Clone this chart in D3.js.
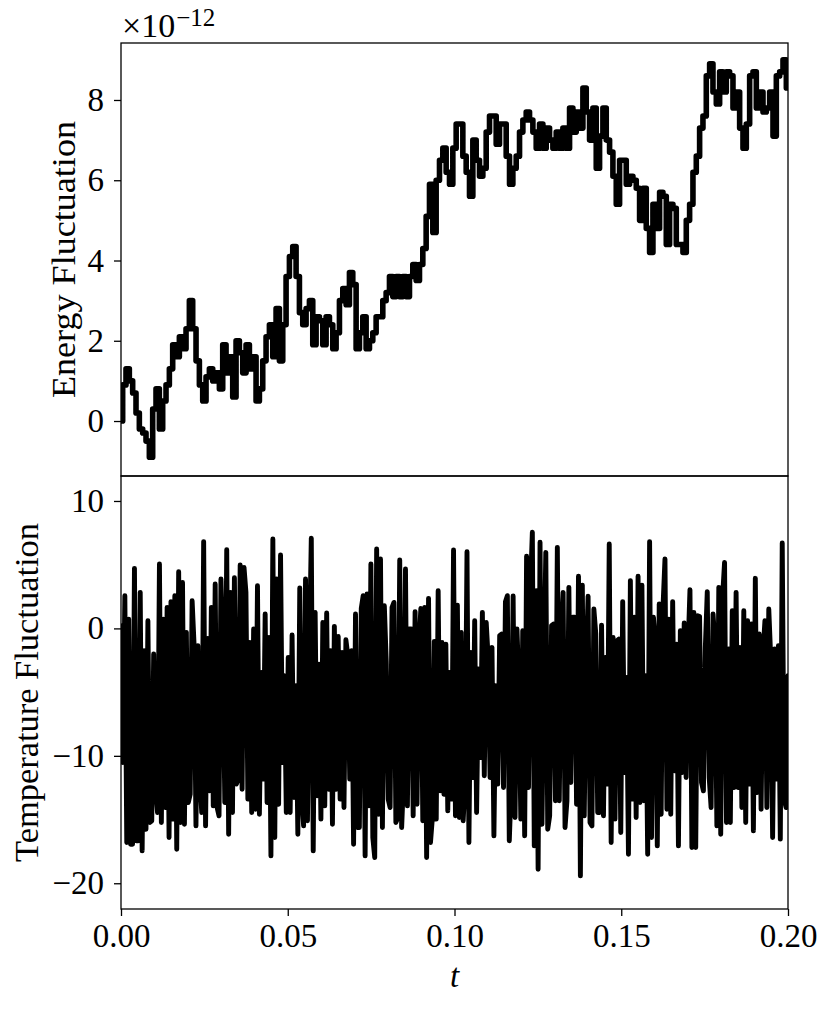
<!DOCTYPE html>
<html><head><meta charset="utf-8">
<script src="https://cdn.jsdelivr.net/npm/d3@7"></script>
<style>body{margin:0;background:#fff} svg{display:block}</style>
</head><body><svg id="c" width="831" height="1010"></svg>
<script>
// Energy fluctuation (units of 1e-12), sampled uniformly from t=0 to t=0.2
const energy = [
 0.0, 0.9, 1.3, 1.0, 0.7, 0.2, -0.2, -0.3, -0.5, -0.9,
 0.3, 0.8, -0.2, 0.5, 0.9, 1.3, 1.9, 1.6, 2.1, 1.8,
 2.3, 3.0, 2.3, 1.5, 0.9, 0.5, 1.1, 1.3, 1.0, 1.2,
 0.8, 1.9, 1.2, 1.6, 0.6, 2.0, 1.7, 1.2, 1.9, 1.3,
 1.6, 0.5, 0.8, 1.5, 2.1, 2.4, 1.6, 2.8, 1.5, 2.4,
 3.6, 4.1, 4.35, 3.6, 2.7, 2.4, 2.8, 3.0, 1.9, 2.6,
 2.5, 1.9, 2.6, 2.4, 1.8, 2.2, 3.0, 3.3, 2.9, 3.7,
 3.4, 1.8, 2.2, 2.6, 1.8, 2.0, 2.2, 2.6, 2.6, 3.0,
 3.2, 3.6, 3.1, 3.6, 3.1, 3.6, 3.1, 3.6, 3.9, 3.5,
 3.9, 4.3, 5.1, 5.9, 4.7, 6.0, 6.5, 6.8, 6.2, 5.9,
 6.8, 7.4, 7.4, 6.6, 6.2, 5.6, 7.0, 6.5, 6.1, 6.3,
 7.2, 7.6, 7.6, 6.9, 7.4, 7.4, 6.6, 5.9, 6.3, 6.6,
 7.2, 7.5, 7.7, 7.5, 7.2, 6.8, 7.4, 6.8, 7.3, 7.0,
 6.8, 7.2, 6.8, 7.3, 6.8, 7.8, 7.2, 7.7, 7.3, 8.3,
 7.7, 7.0, 7.8, 6.3, 7.1, 7.8, 7.0, 6.7, 6.1, 5.4,
 6.5, 6.5, 5.9, 6.1, 6.0, 5.8, 5.0, 5.8, 4.8, 4.2,
 5.4, 4.8, 5.7, 5.6, 4.4, 5.4, 5.3, 4.4, 4.4, 4.2,
 5.0, 5.4, 6.2, 6.6, 7.3, 7.6, 8.6, 8.9, 8.2, 7.9,
 8.7, 8.2, 8.7, 8.6, 7.8, 8.2, 7.3, 6.8, 7.4, 8.6,
 8.7, 7.8, 8.2, 7.7, 7.8, 8.2, 7.1, 8.6, 8.7, 9.0,
 8.3
];

// Temperature fluctuation, sampled uniformly from t=0 to t=0.2
const temperature = [
 0.21, -10.52, 2.57, -16.80, 0.73, -16.94, -16.94, 4.71, -16.67, -16.67,
 2.83, -17.46, -1.75, -15.76, 0.60, -15.23, -15.10, -2.01, -12.49, -14.45,
 5.05, -15.23, 0.73, -14.06, 1.65, -16.41, 2.10, -14.97, 2.57, -17.33,
 4.45, -15.23, 3.61, -15.37, -0.31, -13.66, -13.01, 2.17, -1.23, -15.50,
 -1.36, -11.57, -14.45, 6.81, -15.50, -0.78, -12.75, 1.65, -13.93, 3.48,
 -14.06, -14.71, 3.88, -1.88, -13.66, 6.18, -16.15, 2.83, -14.45, 3.98,
 -12.22, -11.83, 4.98, -12.62, 4.79,
 2.83, -13.40, -1.10, -14.45, -0.05, -14.19, 3.35, -14.58, -3.45, -11.83,
 1.13, -13.66, -0.71, -17.85, 7.02, -16.41, 3.88, -13.80, 5.76, -10.52,
 -3.72, -14.45, -2.28, -14.45, -0.52, -13.27, -4.50, -16.15, 3.17, -13.14,
 -15.50, 3.88, -15.10, -1.88, 7.07, -17.46, 1.26, -13.14, -2.80, -14.97,
 0.47, -13.93, 1.21, -12.62, -1.75, -15.37, 0.16, -12.62, -0.63, -13.40,
 -1.88, -14.06, -0.89, -2.14, -11.83, -1.75, -16.94, 1.13, -15.63, -15.63,
 1.57, 2.57, -17.85, 2.70, -13.93, 5.05, -16.41, -17.98, 6.23, -14.58, 5.45,
 -15.63, 1.78, -2.67, -13.40, -14.06, 1.65, 2.04, -15.23, -14.84, 5.37,
 -15.63, -11.83, 4.66, -13.93, -0.05, -0.05, -14.71, 1.31, -13.80, -1.36,
 1.57, -15.10, 1.65, -17.98, 2.36, -16.80, -14.84, -1.02, -14.97, 2.96,
 -12.75, -1.10, -13.01, -1.23, -14.32, -3.45, -13.40, 6.15, -14.71, 1.83,
 -14.84, -0.31, -15.10, -12.09, 6.02, -16.80, -1.88, -11.70, 0.60, -14.45,
 -3.19, -10.13, 1.26, -11.57, 0.47, -2.28, -11.70, -1.49, -16.28, -4.50,
 -12.22, -0.57, -0.44, -12.49, 2.10, 2.57, -16.67, -12.35, 2.54, -14.84, -0.05,
 -4.50, -14.97, -0.18, -16.28, 5.66, -12.49, 3.09, 7.54, -17.07, 2.96,
 -18.90, 6.76, -15.37, -3.58, 5.97, -15.76, -14.71, 0.21, 0.34, -13.53,
 6.36, -13.53, -0.57, 2.83, -15.63, -13.53, 3.22, -12.09, 0.87, 0.87,
 -13.80, 4.09, -19.42, 3.40, -14.71, -2.67, 2.52, -15.23, -15.50, 1.52,
 -0.44, -14.45, -14.45, 0.26, -14.71, -2.28, -12.22, 6.62, -16.80, -0.71,
 -14.97, -0.97, -0.84, -16.02, 2.10, -11.31, -3.85, -17.72, 3.75, -13.40,
 0.87, -14.84, 4.09, -13.66, 3.40, -13.53, -3.72, -17.72, 6.81, -16.41, 0.87,
 -1.10, -17.07, 1.91, -14.58, 1.78, 5.45, -14.19, 0.73, -14.58, 2.10,
 -11.18, -1.23, -17.07, -0.18, -11.31, 0.42, -11.70, -1.62, 3.04, -17.20,
 1.26, -17.20, 1.00, 0.94, -12.09, -12.75, -1.49, 2.88, -11.70, -14.06,
 1.13, -1.23, -15.50, 3.22, -16.15, 2.57, 5.18, -15.23, -1.62, -15.23,
 1.39, -12.49, 2.83, -12.49, -1.49, -14.06, 1.39, -15.23, 0.60, -12.22,
 0.34, -15.89, 3.93, -12.88, -0.44, -14.19, -1.88, 0.60, -14.06, 1.52,
 -2.28, -16.41, -1.62, -11.83, -1.36, -16.54, 6.70, -13.40, -14.06, -3.72
];

const tRange = [0, 0.2];
const xTicks = [0, 0.05, 0.10, 0.15, 0.20];
const energyTicks = [0, 2, 4, 6, 8];
const tempTicks = [-20, -10, 0, 10];
const energyDomain = [-1.37, 9.42];
const tempDomain = [-22.02, 11.96];
const offsetBase = "×10", offsetExp = "−12";
const labelEnergy = "Energy Fluctuation";
const labelTemp = "Temperature Fluctuation";
const labelX = "t";

const svg = d3.select('#c');
const L = 121, R = 788, T1 = 43, B1 = 476, T2 = 476, B2 = 909;
const FONT = '"Liberation Serif","Times New Roman",serif';
const FS = 33;

const x = d3.scaleLinear().domain(tRange).range([L, R]);
const yE = d3.scaleLinear().domain(energyDomain).range([B1, T1]);
const yT = d3.scaleLinear().domain(tempDomain).range([B2, T2]);

const toSeries = arr => arr.map((v, i) => ({t: tRange[0] + (tRange[1] - tRange[0]) * i / (arr.length - 1), v}));

const defs = svg.append('defs');
defs.append('clipPath').attr('id', 'clipE').append('rect').attr('x', L).attr('y', T1).attr('width', R - L).attr('height', B1 - T1);
defs.append('clipPath').attr('id', 'clipT').append('rect').attr('x', L).attr('y', T2).attr('width', R - L).attr('height', B2 - T2);

svg.append('path').datum(toSeries(energy))
  .attr('clip-path', 'url(#clipE)')
  .attr('fill', 'none').attr('stroke', '#000').attr('stroke-width', 5.6)
  .attr('stroke-linejoin', 'round').attr('stroke-linecap', 'round')
  .attr('d', d3.line().x(d => x(d.t)).y(d => yE(d.v)).curve(d3.curveStep));

svg.append('path').datum(toSeries(temperature))
  .attr('clip-path', 'url(#clipT)')
  .attr('fill', 'none').attr('stroke', '#000').attr('stroke-width', 4.9)
  .attr('stroke-linejoin', 'round').attr('stroke-linecap', 'round')
  .attr('d', d3.line().x(d => x(d.t)).y(d => yT(d.v)));

// frames
[[T1, B1], [T2, B2]].forEach(([t, b]) => {
  svg.append('rect').attr('x', L).attr('y', t).attr('width', R - L).attr('height', b - t)
    .attr('fill', 'none').attr('stroke', '#000').attr('stroke-width', 1.3);
});

function styleAxis(g) {
  g.select('.domain').remove();
  g.selectAll('.tick line').attr('stroke', '#000').attr('stroke-width', 1.3);
  g.selectAll('.tick text').attr('fill', '#000').style('font-family', FONT).style('font-size', FS + 'px');
}

svg.append('g').attr('transform', `translate(${L},0)`)
  .call(d3.axisLeft(yE).tickValues(energyTicks).tickSize(7).tickPadding(10).tickFormat(d3.format('d')))
  .call(styleAxis);
svg.append('g').attr('transform', `translate(${L},0)`)
  .call(d3.axisLeft(yT).tickValues(tempTicks).tickSize(7).tickPadding(10).tickFormat(d3.format('d')))
  .call(styleAxis);
svg.append('g').attr('transform', `translate(0,${B2})`)
  .call(d3.axisBottom(x).tickValues(xTicks).tickSize(7).tickPadding(8).tickFormat(d3.format('.2f')))
  .call(styleAxis);

// offset text
const off = svg.append('text').attr('x', L + 1).attr('y', 37)
  .style('font-family', FONT).style('font-size', '34px').attr('fill', '#000');
off.append('tspan').text(offsetBase);
off.append('tspan').attr('dy', -11).attr('dx', 1).style('font-size', '25px').text(offsetExp);

// axis labels
svg.append('text').attr('transform', `translate(75,${(T1 + B1) / 2}) rotate(-90)`)
  .attr('text-anchor', 'middle').style('font-family', FONT).style('font-size', FS + 'px')
  .attr('textLength', 277).attr('lengthAdjust', 'spacingAndGlyphs').text(labelEnergy);
svg.append('text').attr('transform', `translate(38,${(T2 + B2) / 2}) rotate(-90)`)
  .attr('text-anchor', 'middle').style('font-family', FONT).style('font-size', FS + 'px')
  .attr('textLength', 339).attr('lengthAdjust', 'spacingAndGlyphs').text(labelTemp);
svg.append('text').attr('x', (L + R) / 2).attr('y', 987)
  .attr('text-anchor', 'middle').style('font-family', FONT).style('font-size', FS + 'px')
  .style('font-style', 'italic').text(labelX);
</script></body></html>
